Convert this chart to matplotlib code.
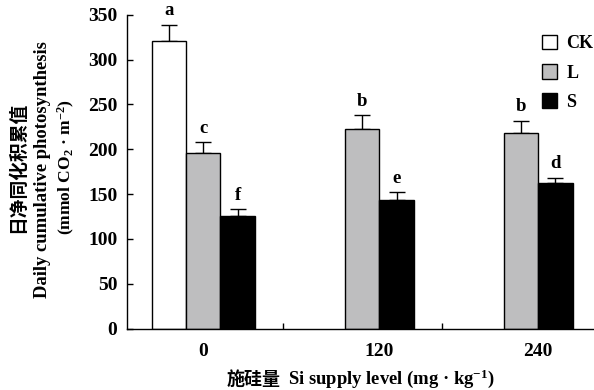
import numpy as np
import matplotlib
matplotlib.use("Agg")
import matplotlib.pyplot as plt
from matplotlib.patches import Patch

plt.rcParams['font.family'] = ['Liberation Serif', 'Noto Sans CJK SC']
plt.rcParams['font.weight'] = 'bold'
plt.rcParams['mathtext.fontset'] = 'custom'
plt.rcParams['mathtext.rm'] = 'Liberation Serif:bold'
plt.rcParams['mathtext.it'] = 'Liberation Serif:bold'

# data
si_levels = ["0", "120", "240"]
treatments = ["CK", "L", "S"]
ck_mean = [321, np.nan, np.nan]
l_mean = [196, 223, 218]
s_mean = [126, 144, 162]
ck_err = [18, np.nan, np.nan]
l_err = [12, 15, 14]
s_err = [7, 8, 6]
ck_sig = ["a", "", ""]
l_sig = ["c", "b", "b"]
s_sig = ["f", "e", "d"]

colors = ["white", "#bebebf", "black"]
means = [ck_mean, l_mean, s_mean]
errs = [ck_err, l_err, s_err]
sigs = [ck_sig, l_sig, s_sig]

fig = plt.figure(figsize=(5.94, 3.9), dpi=100)
ax = fig.add_axes([127 / 594, 61.3 / 390, 1 - 127 / 594, 314 / 390])

x = np.arange(len(si_levels))
w = 0.217
offsets = [-w, 0, w]
for i in range(3):
    xs = x + offsets[i]
    m = np.array(means[i], dtype=float)
    e = np.array(errs[i], dtype=float)
    ok = ~np.isnan(m)
    ax.bar(xs[ok], m[ok], width=w, color=colors[i], edgecolor="black", linewidth=1.0, zorder=2)
    ax.errorbar(xs[ok], m[ok], yerr=[np.zeros(ok.sum()), e[ok]], fmt="none",
                ecolor="black", elinewidth=1.0, capsize=5.5, capthick=1.0, zorder=1)
    for xi, mi, ei, s in zip(xs[ok], m[ok], e[ok], np.array(sigs[i])[ok]):
        ax.annotate(s, (xi, mi + ei), xytext=(0, 4), textcoords="offset points",
                    ha="center", va="bottom", fontsize=13.5, fontweight="bold")

# tick label position: centre of the bars present in each group
label_pos = []
for g in range(len(si_levels)):
    present = [x[g] + offsets[i] for i in range(3) if not np.isnan(means[i][g])]
    label_pos.append(np.mean(present))

ax.set_xlim(-0.48, 2.46)
ax.set_ylim(0, 350)
ax.set_yticks(np.arange(0, 351, 50))
ax.set_xticks([0.5, 1.5])
ax.set_xticklabels([])
ax.set_xticks(label_pos, minor=True)
ax.set_xticklabels(si_levels, minor=True)
ax.tick_params(axis="x", which="minor", length=0, pad=10, labelsize=14)
ax.tick_params(axis="x", which="major", direction="in", length=4, width=1)
ax.tick_params(axis="y", direction="in", length=4, width=1, pad=7, labelsize=14)
for sp in ["top", "right"]:
    ax.spines[sp].set_visible(False)
for sp in ["left", "bottom"]:
    ax.spines[sp].set_linewidth(1.0)

handles = [Patch(facecolor=c, edgecolor="black", linewidth=1.0) for c in colors]
ax.legend(handles, treatments, loc="upper left", bbox_to_anchor=(542 / 594, 1 - 35 / 390),
          bbox_transform=fig.transFigure, frameon=False, fontsize=13,
          handlelength=0.85, handleheight=0.85, handletextpad=0.5, labelspacing=0.65,
          borderpad=0, borderaxespad=0)

# y label, three lines
fig.text(18 / 594, 1 - 167 / 390, "日净同化积累值", rotation=90, ha="center", va="center",
         fontsize=13.5, fontweight="bold", family="Noto Sans CJK SC")
fig.text(43 / 594, 1 - 170 / 390, "Daily cumulative photosynthesis", rotation=90,
         ha="center", va="center", fontsize=13.4, fontweight="bold")
fig.text(66 / 594, 1 - 167 / 390, "(mmol CO$_2$ · m$^{-2}$)", rotation=90,
         ha="center", va="center", fontsize=12.6, fontweight="bold")

# x label
fig.text(254 / 594, 1 - 379 / 390, "施硅量", ha="center", va="center",
         fontsize=13, fontweight="bold", family="Noto Sans CJK SC")
fig.text(391 / 594, 1 - 379 / 390, "Si supply level (mg · kg$^{-1}$)",
         ha="center", va="center", fontsize=13.4, fontweight="bold")

fig.savefig("out.png", dpi=100)
